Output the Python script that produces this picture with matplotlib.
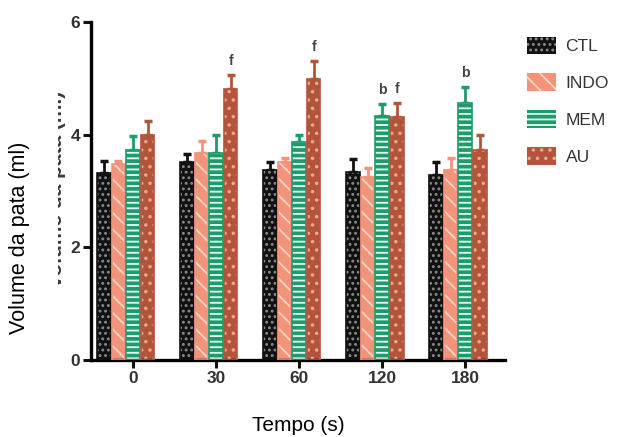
import matplotlib
matplotlib.use('Agg')
import matplotlib.pyplot as plt
import matplotlib.patches as mpatches
import numpy as np

# group data: mean paw volume and upper SEM per time point
times = ['0', '30', '60', '120', '180']
groups = ['CTL', 'INDO', 'MEM', 'AU']
ctl_mean = [3.32, 3.52, 3.38, 3.34, 3.29]
ctl_err = [0.22, 0.14, 0.13, 0.23, 0.23]
indo_mean = [3.47, 3.68, 3.52, 3.25, 3.38]
indo_err = [0.06, 0.20, 0.06, 0.16, 0.21]
mem_mean = [3.73, 3.68, 3.86, 4.33, 4.56]
mem_err = [0.24, 0.31, 0.13, 0.21, 0.29]
au_mean = [3.99, 4.81, 4.99, 4.31, 3.73]
au_err = [0.26, 0.25, 0.32, 0.25, 0.26]
# significance letters above each time point
marks = [('', ''), ('', 'f'), ('', 'f'), ('b', 'f'), ('b', '')]

means = [ctl_mean, indo_mean, mem_mean, au_mean]
errs = [ctl_err, indo_err, mem_err, au_err]
faces = ['#111111', '#f2937a', '#1f9a6c', '#b4543b']
hatch_cols = ['#8a8a8a', '#fbd6c8', '#e6fff4', '#e8aa92']
hatches = ['...', '\\\\', '---', '..']

sans = ['Liberation Sans', 'DejaVu Sans']
plt.rcParams['hatch.linewidth'] = 1.3

fig = plt.figure(figsize=(6.17, 4.37), dpi=100)
ax = fig.add_axes([0.1475, 0.176, 0.671, 0.774])

x = np.arange(len(times))
step = 0.175
width = 0.165
handles = []
for k in range(4):
    pos = x + (k - 2) * step
    ax.bar(pos, means[k], width, color=faces[k], edgecolor=hatch_cols[k],
           hatch=hatches[k], linewidth=0, zorder=2)
    ax.bar(pos, means[k], width, fill=False, edgecolor=faces[k], linewidth=1.2, zorder=3)
    ax.errorbar(pos, means[k], yerr=[np.zeros(len(times)), errs[k]], fmt='none',
                ecolor=faces[k], elinewidth=2, capsize=3, capthick=2.5, zorder=1)
    handles.append(mpatches.Patch(facecolor=faces[k], edgecolor=hatch_cols[k],
                                  hatch=hatches[k], linewidth=0))

# letters over MEM (b) and AU (f)
for i, (m_mem, m_au) in enumerate(marks):
    if m_mem:
        ax.text(x[i], mem_mean[i] + mem_err[i] + 0.12, m_mem, ha='center', va='bottom',
                fontsize=10, fontweight='bold', color='#444444', family=sans)
    if m_au:
        ax.text(x[i] + step, au_mean[i] + au_err[i] + 0.12, m_au, ha='center', va='bottom',
                fontsize=10, fontweight='bold', color='#444444', family=sans)

ax.set_xlim(-0.506, 4.48)
ax.set_ylim(0, 6)
ax.set_yticks([0, 2, 4, 6])
ax.set_xticks(x)
ax.set_xticklabels(times)
for side in ['top', 'right']:
    ax.spines[side].set_visible(False)
for side in ['left', 'bottom']:
    ax.spines[side].set_linewidth(2.4)
ax.tick_params(axis='both', width=2.2, length=6, labelsize=12.5, color='#111111',
               labelcolor='#333333', pad=2)
for lab in ax.get_xticklabels() + ax.get_yticklabels():
    lab.set_family(sans)
    lab.set_fontweight('bold')

fig.text(0.032, 0.455, 'Volume da pata (ml)', rotation=90, ha='center', va='center',
         fontsize=15.5, family=sans)
fig.text(0.483, 0.027, 'Tempo (s)', ha='center', va='center',
         fontsize=15, family=sans)

# partly hidden older axis title next to the spine
ghost = fig.text(56 / 617, 1 - 189 / 437, 'Volume da pata (ml)', rotation=90,
                 ha='center', va='center', fontsize=15, fontweight='bold',
                 color='#3a3a3a', family=sans)
clip = mpatches.Rectangle((58 / 617, 0), 9 / 617, 1, transform=fig.transFigure)
ghost.set_clip_path(clip)

leg = fig.legend(handles, groups, loc='upper left', bbox_to_anchor=(0.828, 0.952),
                 frameon=False, handlelength=1.7, handleheight=1.2,
                 labelspacing=1.1, handletextpad=0.55,
                 prop={'family': sans, 'size': 12.5})
for t in leg.get_texts():
    t.set_color('#333333')

fig.savefig('out.png', dpi=100)
